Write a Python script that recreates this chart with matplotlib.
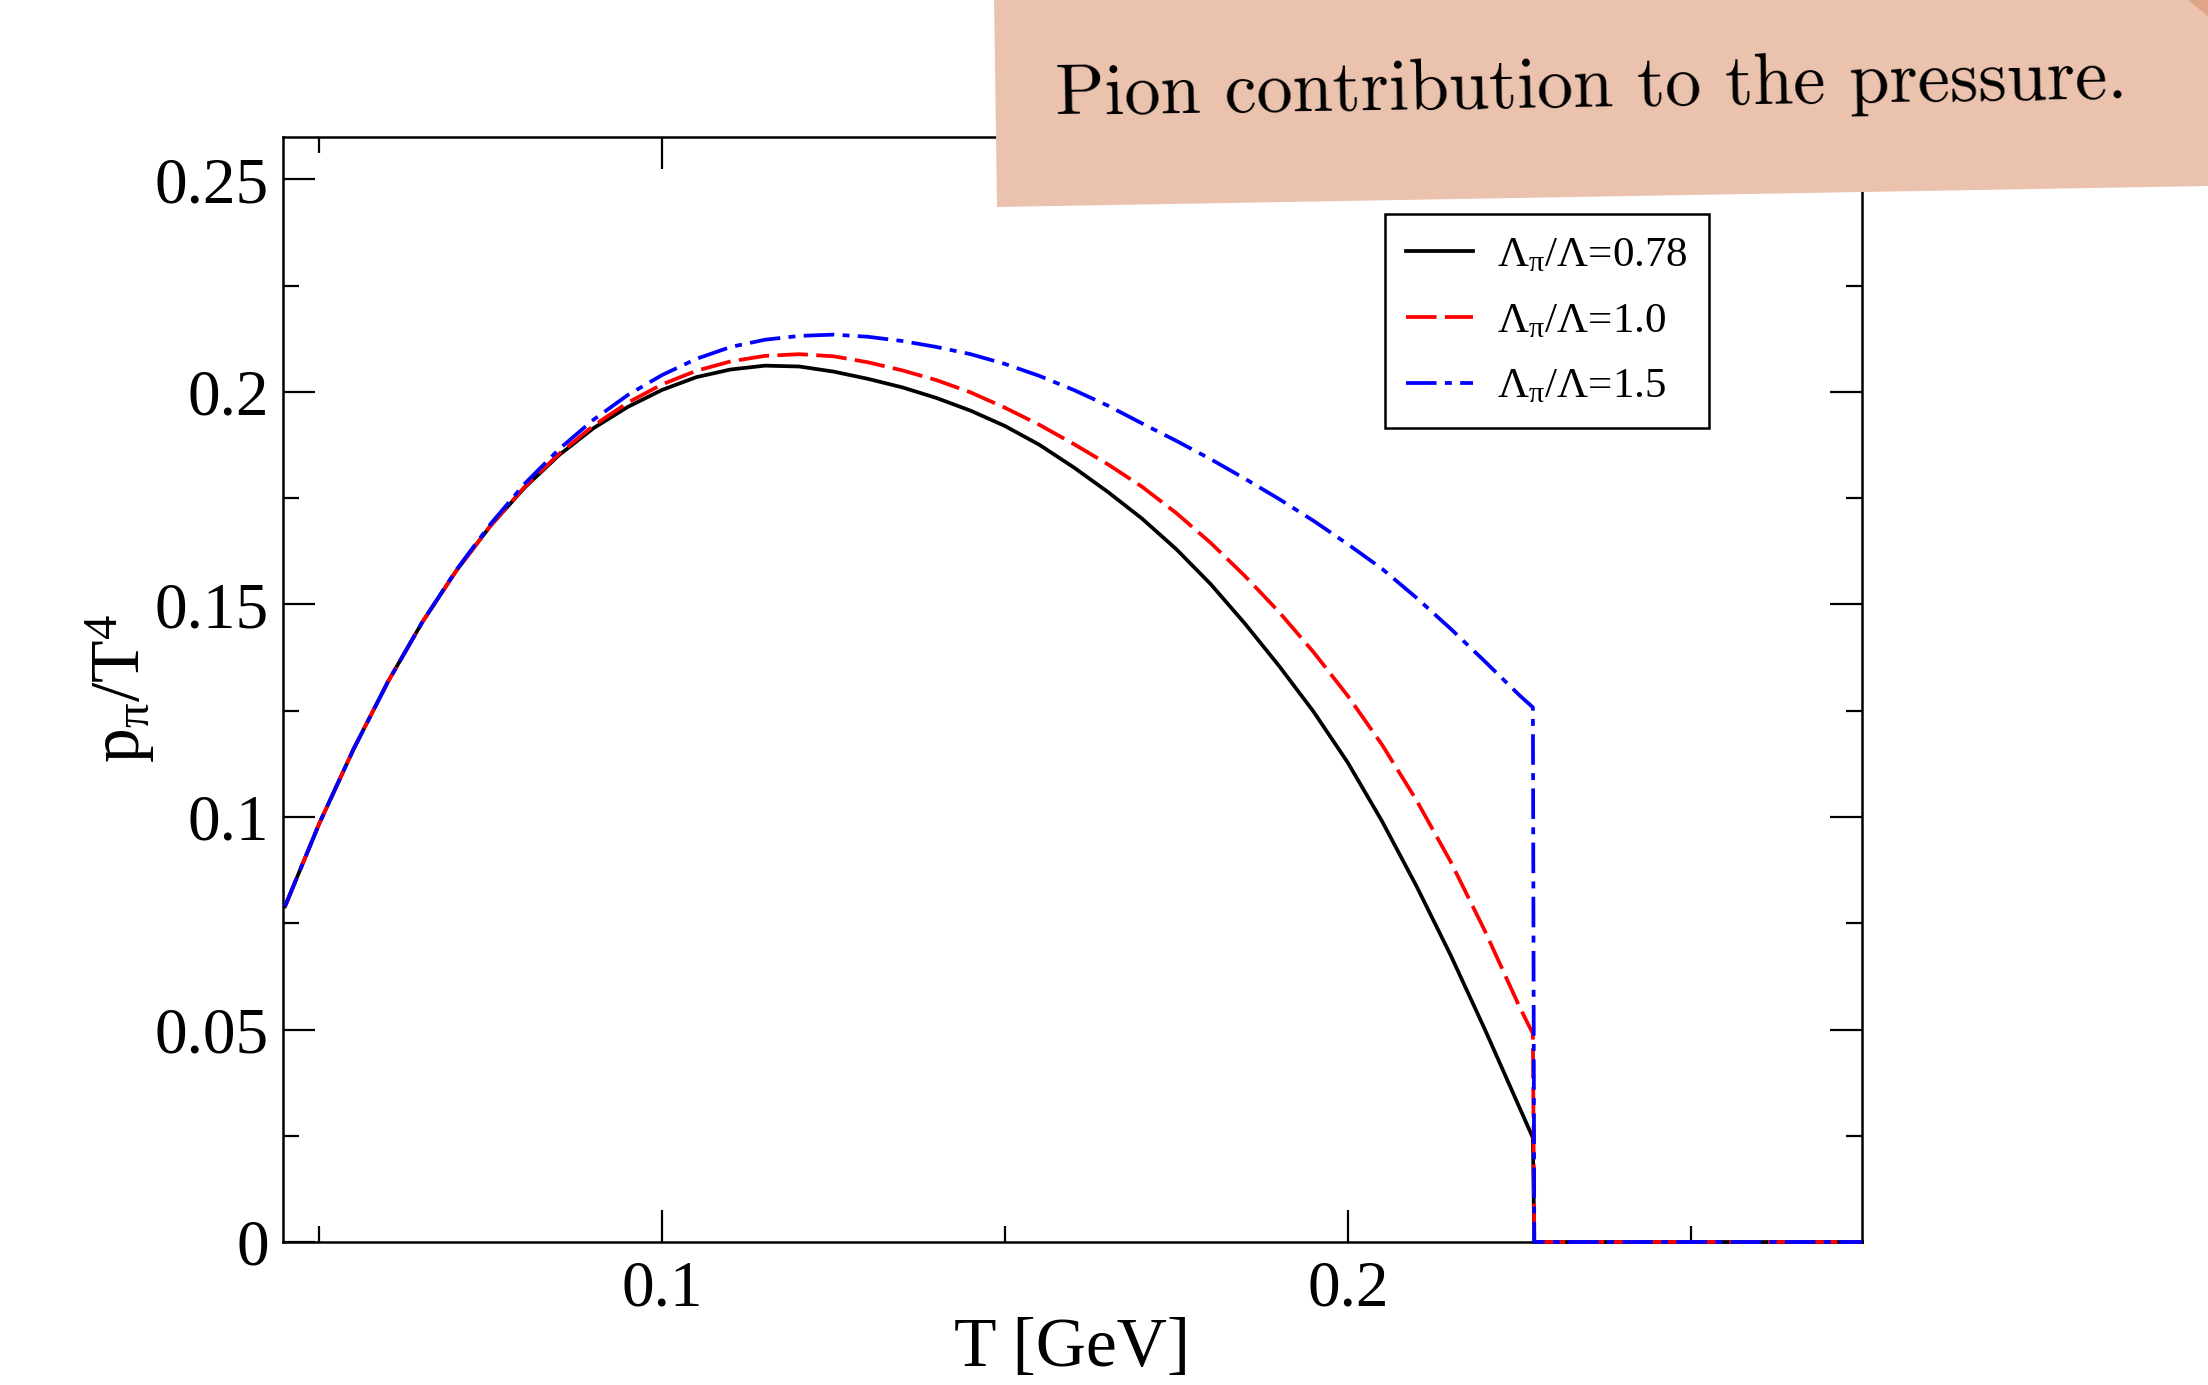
import matplotlib
matplotlib.use("Agg")
import matplotlib.pyplot as plt
from matplotlib.patches import Polygon
from matplotlib.ticker import MultipleLocator, FormatStrFormatter

plt.rcParams['font.family'] = ['Liberation Serif', 'DejaVu Serif']
plt.rcParams['mathtext.fontset'] = 'custom'
plt.rcParams['mathtext.rm'] = 'Liberation Serif'
plt.rcParams['mathtext.it'] = 'Liberation Serif:italic'
plt.rcParams['lines.scale_dashes'] = False

# ---- data ----
T = [0.045, 0.050, 0.055, 0.060, 0.065, 0.070, 0.075, 0.080, 0.085, 0.090,
     0.095, 0.100, 0.105, 0.110, 0.115, 0.120, 0.125, 0.130, 0.135, 0.140,
     0.145, 0.150, 0.155, 0.160, 0.165, 0.170, 0.175, 0.180, 0.185, 0.190,
     0.195, 0.200, 0.205, 0.210, 0.215, 0.220, 0.225, 0.227]

p_078 = [0.0790, 0.0985, 0.1160, 0.1318, 0.1458, 0.1580, 0.1686, 0.1776, 0.1852, 0.1915,
         0.1965, 0.2005, 0.2035, 0.2053, 0.2062, 0.2060, 0.2048, 0.2031, 0.2011, 0.1986,
         0.1956, 0.1920, 0.1876, 0.1823, 0.1765, 0.1702, 0.1630, 0.1548, 0.1455, 0.1355,
         0.1248, 0.1128, 0.0990, 0.0838, 0.0675, 0.0500, 0.0318, 0.0245]

p_10 = [0.0790, 0.0985, 0.1160, 0.1318, 0.1458, 0.1580, 0.1686, 0.1778, 0.1855, 0.1921,
        0.1975, 0.2018, 0.2050, 0.2072, 0.2085, 0.2089, 0.2084, 0.2070, 0.2051, 0.2028,
        0.1999, 0.1963, 0.1923, 0.1878, 0.1830, 0.1777, 0.1715, 0.1645, 0.1567, 0.1482,
        0.1388, 0.1285, 0.1170, 0.1040, 0.0895, 0.0732, 0.0555, 0.0490]

p_15 = [0.0790, 0.0985, 0.1160, 0.1318, 0.1458, 0.1582, 0.1690, 0.1785, 0.1866, 0.1935,
        0.1993, 0.2040, 0.2078, 0.2106, 0.2123, 0.2132, 0.2135, 0.2130, 0.2120, 0.2106,
        0.2089, 0.2066, 0.2038, 0.2005, 0.1968, 0.1926, 0.1885, 0.1842, 0.1796, 0.1748,
        0.1697, 0.1642, 0.1584, 0.1516, 0.1443, 0.1366, 0.1287, 0.1258]

T_drop = 0.2272
T_end = 0.275
labels = [r'$\mathregular{\Lambda_{\pi}/\Lambda}$=0.78',
          r'$\mathregular{\Lambda_{\pi}/\Lambda}$=1.0',
          r'$\mathregular{\Lambda_{\pi}/\Lambda}$=1.5']
note_text = "Pion contribution to the pressure."

# ---- figure ----
W, H = 2208, 1385
fig = plt.figure(figsize=(22.08, 13.85), dpi=100)
fig.patch.set_facecolor('white')
ax = fig.add_axes([283/W, 1-1242/H, (1862-283)/W, (1242-137)/H])

def extend(t, p):
    return list(t) + [T_drop, T_end], list(p) + [0.0, 0.0]

lw = 2.7
x, y = extend(T, p_078)
ax.plot(x, y, color='black', lw=lw, label=labels[0], zorder=3, clip_on=False)
x, y = extend(T, p_10)
ax.plot(x, y, color='red', lw=lw, dashes=(22, 6), label=labels[1], zorder=3.1, clip_on=False)
x, y = extend(T, p_15)
ax.plot(x, y, color='blue', lw=lw, dashes=(22, 6, 5, 6), label=labels[2], zorder=3.2, clip_on=False)

ax.set_xlim(0.0447, 0.275)
ax.set_ylim(0, 0.26)
ax.xaxis.set_major_locator(MultipleLocator(0.1))
ax.xaxis.set_minor_locator(MultipleLocator(0.05))
ax.yaxis.set_major_locator(MultipleLocator(0.05))
ax.yaxis.set_minor_locator(MultipleLocator(0.025))
ax.xaxis.set_major_formatter(FormatStrFormatter('%g'))
ax.yaxis.set_major_formatter(FormatStrFormatter('%g'))
ax.tick_params(which='both', direction='in', top=True, right=True, width=1.6)
ax.tick_params(which='major', length=23, labelsize=47)
ax.tick_params(which='minor', length=11.5)
ax.tick_params(axis='y', which='major', pad=10)
ax.tick_params(axis='x', which='major', pad=13)
for s in ax.spines.values():
    s.set_linewidth(1.8)

fig.text((283+1862)/2/W, 1-1349/H, 'T [GeV]', ha='center', va='center', fontsize=50)
fig.text(120/W, 1-688/H, r'$\mathregular{p_{\pi}/T^{4}}$', ha='center', va='center',
         rotation=90, fontsize=50)

leg = ax.legend(loc='upper right', bbox_to_anchor=(0.903, 0.930), borderaxespad=0,
                fontsize=31, handlelength=1.55, handletextpad=0.55, labelspacing=0.62,
                borderpad=0.5, fancybox=False, framealpha=1, edgecolor='black')
leg.get_frame().set_linewidth(1.8)

# sticky note
def fc(px, py):
    return (px / W, 1 - py / H)
note = Polygon([fc(994, -5), fc(997, 207), fc(2208, 186), fc(2208, -5)],
               closed=True, transform=fig.transFigure, facecolor='#EAC2AE',
               edgecolor='none', zorder=10)
fig.add_artist(note)
corner = Polygon([fc(2186, -2), fc(2210, -2), fc(2210, 18)], closed=True,
                 transform=fig.transFigure, facecolor='#E0A488', edgecolor='none', zorder=11)
fig.add_artist(corner)
fig.text(1591/W, 1-88/H, note_text, ha='center', va='center', fontsize=52,
         family='cmr10', rotation=0.9, zorder=12)

fig.savefig('out.png', dpi=100)
